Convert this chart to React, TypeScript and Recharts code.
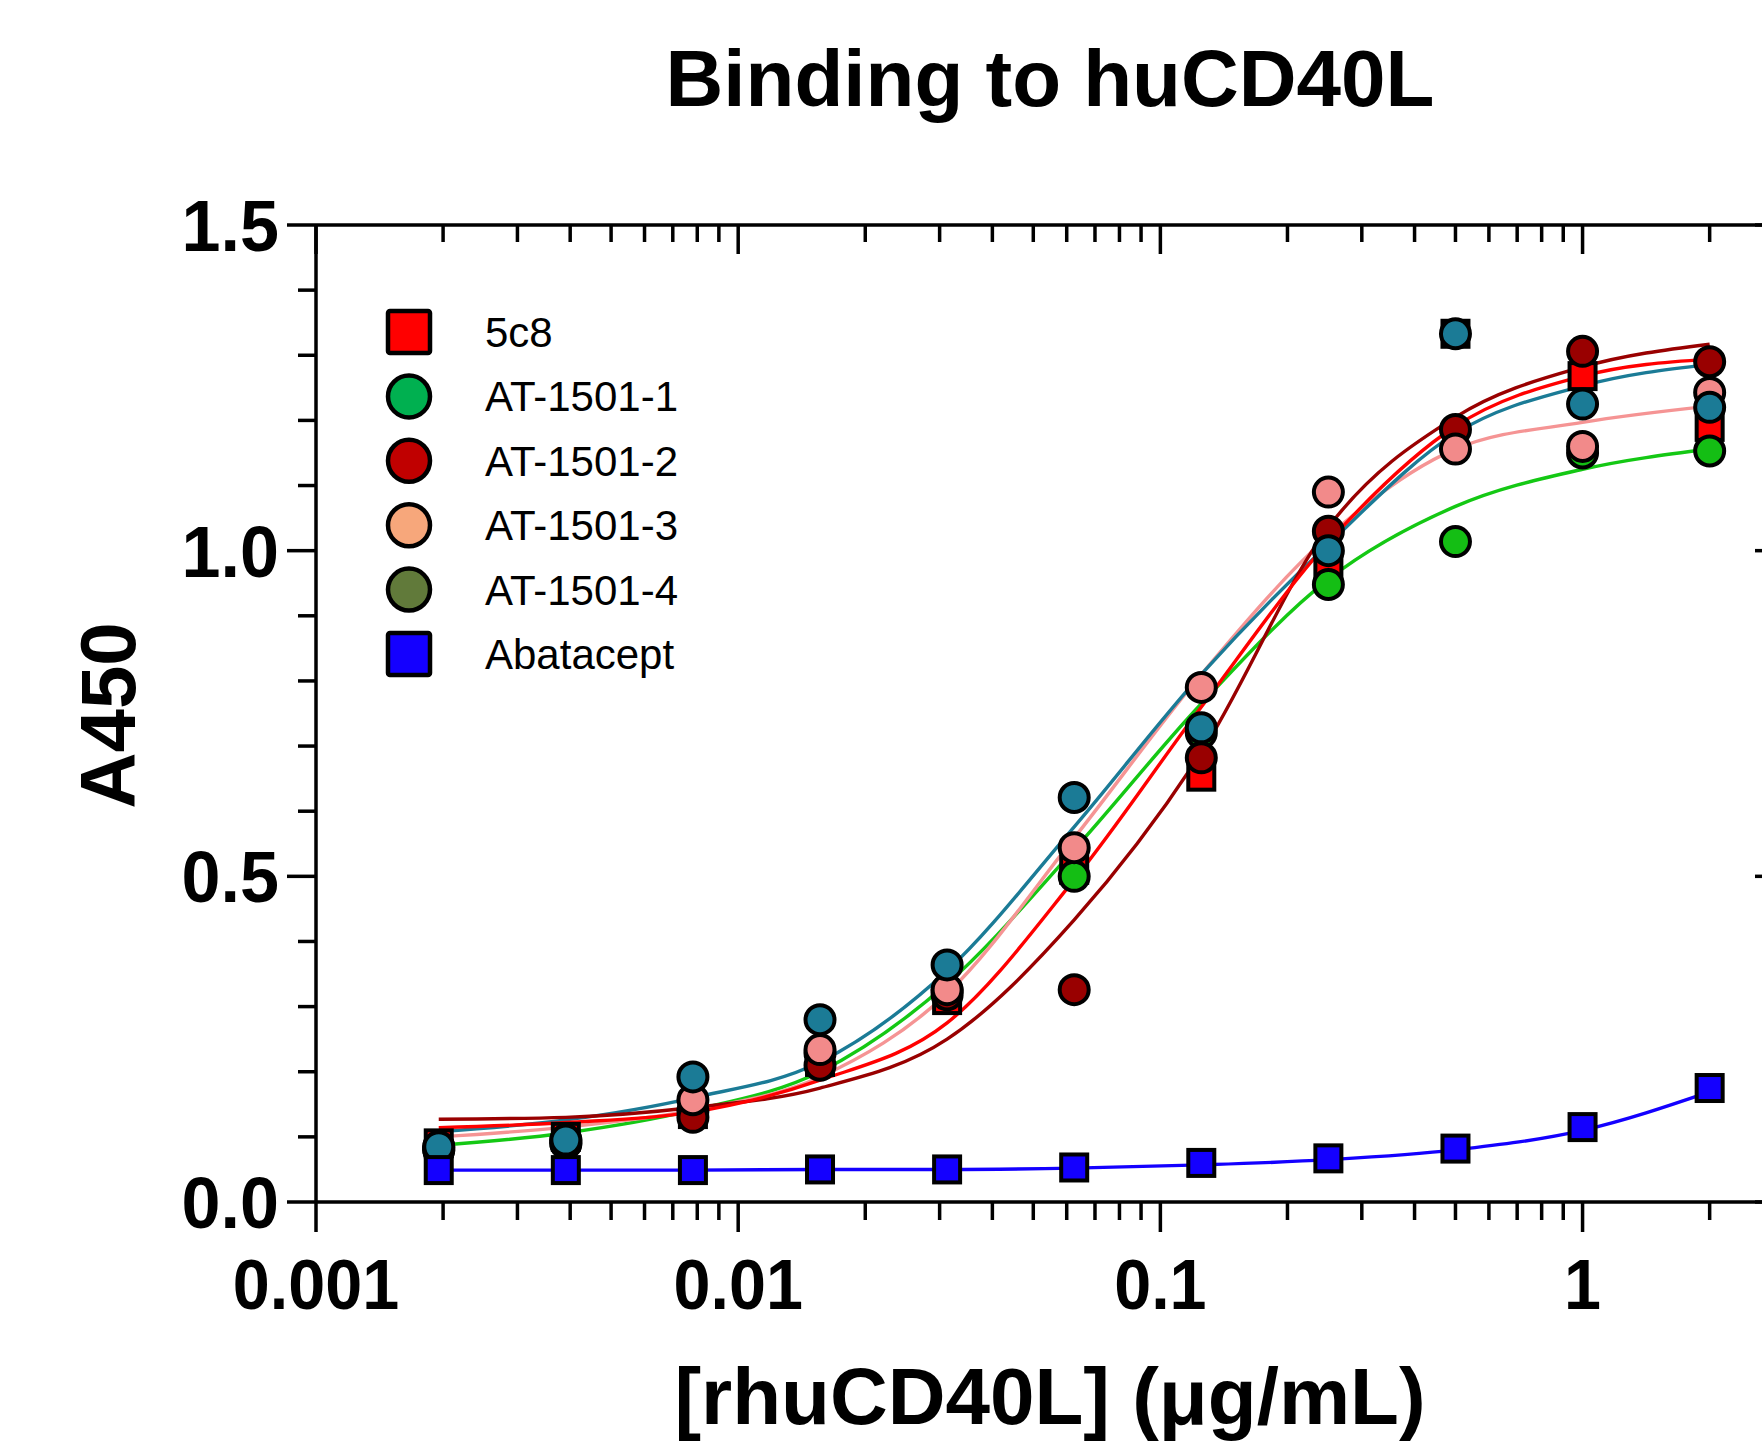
import React from 'react';
import { ComposedChart, Line, Scatter, XAxis, YAxis, Legend } from 'recharts';

// ---------- data ----------
const concentrations = [0.001953125, 0.00390625, 0.0078125, 0.015625, 0.03125, 0.0625, 0.125, 0.25, 0.5, 1, 2];

// measured points (A450)
const pts5c8 = [0.09, 0.1, 0.135, 0.215, 0.31, 0.51, 0.653, 0.975, 1.333, 1.268, 1.19];
const ptsAT1 = [0.08, 0.095, 0.14, 0.228, 0.325, 0.5, 0.72, 0.948, 1.014, 1.15, 1.153];
const ptsAT2 = [0.085, 0.09, 0.13, 0.21, 0.318, 0.326, 0.682, 1.03, 1.186, 1.306, 1.29];
const ptsAT3 = [0.08, 0.09, 0.157, 0.234, 0.326, 0.544, 0.79, 1.09, 1.156, 1.16, 1.243];
const ptsAT4 = [0.085, 0.095, 0.192, 0.28, 0.364, 0.621, 0.728, 1.0, 1.333, 1.225, 1.22];
const ptsAba = [0.049, 0.049, 0.049, 0.05, 0.05, 0.053, 0.06, 0.067, 0.082, 0.115, 0.175];

// fitted curves
const fit5c8 = [0.114, 0.122, 0.138, 0.187, 0.275, 0.495, 0.76, 1.013, 1.191, 1.268, 1.294];
const fitAT1 = [0.087, 0.106, 0.141, 0.2, 0.335, 0.541, 0.765, 0.956, 1.068, 1.125, 1.156];
const fitAT2 = [0.127, 0.13, 0.145, 0.175, 0.25, 0.433, 0.69, 1.036, 1.205, 1.282, 1.317];
const fitAT3 = [0.1, 0.115, 0.141, 0.192, 0.32, 0.559, 0.81, 1.022, 1.156, 1.197, 1.222];
const fitAT4 = [0.108, 0.126, 0.16, 0.215, 0.355, 0.576, 0.81, 1.01, 1.18, 1.253, 1.286];
const fitAba = [0.049, 0.049, 0.049, 0.05, 0.05, 0.052, 0.057, 0.065, 0.08, 0.11, 0.169];

const legendNames = ['5c8', 'AT-1501-1', 'AT-1501-2', 'AT-1501-3', 'AT-1501-4', 'Abatacept'];
const legendShapes = ['square', 'circle', 'circle', 'circle', 'circle', 'square'];

const xMajorTicks = [0.001, 0.01, 0.1, 1];
const xTickLabels = ['0.001', '0.01', '0.1', '1'];
const xMinorTicks = [
  0.002, 0.003, 0.004, 0.005, 0.006, 0.007, 0.008, 0.009,
  0.02, 0.03, 0.04, 0.05, 0.06, 0.07, 0.08, 0.09,
  0.2, 0.3, 0.4, 0.5, 0.6, 0.7, 0.8, 0.9,
  2, 3,
];
const yMajorTicks = [0, 0.5, 1, 1.5];
const yTickLabels = ['0.0', '0.5', '1.0', '1.5'];
const yMinorTicks = [0.1, 0.2, 0.3, 0.4, 0.6, 0.7, 0.8, 0.9, 1.1, 1.2, 1.3, 1.4];

const titleText = 'Binding to huCD40L';
const xTitle = '[rhuCD40L] (\u03bcg/mL)';
const yTitle = 'A450';

// ---------- styles ----------
const legendColors = ['#FF0000', '#00B050', '#C00000', '#F7A77B', '#617A3A', '#1400FF'];
const pointColors = ['#FF0000', '#14BE14', '#990000', '#F28A8A', '#1B7B96', '#1400FF'];
const lineColors = ['#FF0000', '#14C814', '#990000', '#F59494', '#1B7B96', '#1400FF'];
const FONT = '"Liberation Sans", Arial, Helvetica, sans-serif';

const makePoints = (vals: number[]) => concentrations.map((x, i) => ({ x, y: vals[i] }));
const fitRows = concentrations.map((x, i) => ({
  x,
  f5c8: fit5c8[i],
  fAT1: fitAT1[i],
  fAT2: fitAT2[i],
  fAT3: fitAT3[i],
  fAT4: fitAT4[i],
  fAba: fitAba[i],
}));

const xAllTicks = [...xMajorTicks, ...xMinorTicks].sort((a, b) => a - b);
const yAllTicks = [...yMajorTicks, ...yMinorTicks].sort((a, b) => a - b);

const AX = 3.5;
const LW = 3.4;

const BottomTick = (props: any) => {
  const { x, y, payload } = props;
  const idx = xMajorTicks.indexOf(payload.value);
  const major = idx >= 0;
  return (
    <g>
      <line x1={x} x2={x} y1={y} y2={y + (major ? 30 : 18)} stroke="#000" strokeWidth={AX} />
      {major && (
        <text
          transform={`translate(${x},${y + 107}) scale(0.95,1)`}
          textAnchor="middle"
          fontSize={70}
          fontWeight="bold"
          fontFamily={FONT}
          fill="#000"
        >
          {xTickLabels[idx]}
        </text>
      )}
    </g>
  );
};

const TopTick = (props: any) => {
  const { x, y, payload } = props;
  const major = xMajorTicks.indexOf(payload.value) >= 0;
  return <line x1={x} x2={x} y1={y} y2={y + (major ? 29 : 17)} stroke="#000" strokeWidth={AX} />;
};

const LeftTick = (props: any) => {
  const { x, y, payload } = props;
  const idx = yMajorTicks.indexOf(payload.value);
  const major = idx >= 0;
  return (
    <g>
      <line x1={x} x2={x - (major ? 29 : 18)} y1={y} y2={y} stroke="#000" strokeWidth={AX} />
      {major && (
        <text
          transform={`translate(${x - 37},${y + 26}) scale(0.96,1)`}
          textAnchor="end"
          fontSize={73}
          fontWeight="bold"
          fontFamily={FONT}
          fill="#000"
        >
          {yTickLabels[idx]}
        </text>
      )}
    </g>
  );
};

const RightTick = (props: any) => {
  const { x, y, payload } = props;
  const major = yMajorTicks.indexOf(payload.value) >= 0;
  return <line x1={x} x2={x - (major ? 29 : 17)} y1={y} y2={y} stroke="#000" strokeWidth={AX} />;
};

const renderXTitle = (props: any) => {
  const vb = props.viewBox || {};
  return (
    <text
      x={vb.x + vb.width / 2}
      y={vb.y + 222}
      textAnchor="middle"
      fontSize={80}
      fontWeight="bold"
      fontFamily={FONT}
      fill="#000"
    >
      {xTitle}
    </text>
  );
};

const renderYTitle = (props: any) => {
  const vb = props.viewBox || {};
  return (
    <text
      transform={`translate(135,${vb.y + vb.height / 2 + 2}) rotate(-90)`}
      textAnchor="middle"
      fontSize={78}
      fontWeight="bold"
      fontFamily={FONT}
      fill="#000"
    >
      {yTitle}
    </text>
  );
};

const makeSquare = (fill: string) => (p: any) => (
  <rect x={p.cx - 13} y={p.cy - 13} width={26} height={26} fill={fill} stroke="#000" strokeWidth={4} />
);
const makeCircle = (fill: string) => (p: any) => (
  <circle cx={p.cx} cy={p.cy} r={14.5} fill={fill} stroke="#000" strokeWidth={4} />
);

const renderLegend = () => (
  <svg width={340} height={420}>
    {legendNames.map((name, i) => {
      const cy = 30 + i * 64.4;
      return (
        <g key={name}>
          {legendShapes[i] === 'square' ? (
            <rect x={9} y={cy - 21} width={42} height={42} rx={2} fill={legendColors[i]} stroke="#000" strokeWidth={4.5} />
          ) : (
            <circle cx={30} cy={cy} r={21} fill={legendColors[i]} stroke="#000" strokeWidth={4.5} />
          )}
          <text x={106} y={cy + 15} fontSize={42} fontFamily={FONT} fill="#000">
            {name}
          </text>
        </g>
      );
    })}
  </svg>
);

export default function App() {
  return (
    <div style={{ position: 'absolute', left: 0, top: 0, width: 1762, height: 1444, overflow: 'hidden', background: '#fff' }}>
      <div
        style={{
          position: 'absolute',
          left: 550,
          top: 39,
          width: 1000,
          textAlign: 'center',
          fontFamily: FONT,
          fontWeight: 'bold',
          fontSize: 80,
          lineHeight: '80px',
          color: '#000',
          whiteSpace: 'nowrap',
          zIndex: 2,
        }}
      >
        {titleText}
      </div>
      <ComposedChart
        width={1900}
        height={1444}
        data={fitRows}
        margin={{ top: 224, right: 100, bottom: 0, left: 0 }}
      >
        <XAxis
          dataKey="x"
          type="number"
          scale="log"
          domain={[0.001, 3]}
          allowDataOverflow
          ticks={xAllTicks}
          interval={0}
          tickSize={0}
          tickMargin={0}
          tick={<BottomTick />}
          tickLine={false}
          axisLine={{ stroke: '#000', strokeWidth: AX }}
          height={242}
          label={renderXTitle}
        />
        <XAxis
          xAxisId="top"
          orientation="top"
          dataKey="x"
          type="number"
          scale="log"
          domain={[0.001, 3]}
          allowDataOverflow
          ticks={xAllTicks}
          interval={0}
          tickSize={0}
          tickMargin={0}
          tick={<TopTick />}
          tickLine={false}
          axisLine={{ stroke: '#000', strokeWidth: AX }}
          height={1}
        />
        <YAxis
          type="number"
          domain={[0, 1.5]}
          allowDataOverflow
          ticks={yAllTicks}
          interval={0}
          tickSize={0}
          tickMargin={0}
          tick={<LeftTick />}
          tickLine={false}
          axisLine={{ stroke: '#000', strokeWidth: AX }}
          width={316}
          label={renderYTitle}
        />
        <YAxis
          yAxisId="right"
          orientation="right"
          type="number"
          domain={[0, 1.5]}
          allowDataOverflow
          ticks={yAllTicks}
          interval={0}
          tickSize={0}
          tickMargin={0}
          tick={<RightTick />}
          tickLine={false}
          axisLine={{ stroke: '#000', strokeWidth: AX }}
          width={16}
        />
        <Legend
          layout="vertical"
          align="center"
          verticalAlign="middle"
          content={renderLegend}
          wrapperStyle={{ left: 379, top: 302, width: 340, height: 420 }}
        />

        <Scatter name="5c8" data={makePoints(pts5c8)} dataKey="y" shape={makeSquare(pointColors[0])} isAnimationActive={false} legendType="none" />
        <Scatter name="AT-1501-1" data={makePoints(ptsAT1)} dataKey="y" shape={makeCircle(pointColors[1])} isAnimationActive={false} legendType="none" />
        <Scatter name="AT-1501-2" data={makePoints(ptsAT2)} dataKey="y" shape={makeCircle(pointColors[2])} isAnimationActive={false} legendType="none" />
        <Scatter name="AT-1501-3" data={makePoints(ptsAT3)} dataKey="y" shape={makeCircle(pointColors[3])} isAnimationActive={false} legendType="none" />
        <Scatter name="AT-1501-4" data={makePoints(ptsAT4)} dataKey="y" shape={makeCircle(pointColors[4])} isAnimationActive={false} legendType="none" />
        <Scatter name="Abatacept" data={makePoints(ptsAba)} dataKey="y" shape={makeSquare(pointColors[5])} isAnimationActive={false} legendType="none" />

        <Line dataKey="fAT1" type="monotone" stroke={lineColors[1]} strokeWidth={LW} dot={false} activeDot={false} isAnimationActive={false} legendType="none" />
        <Line dataKey="fAT3" type="monotone" stroke={lineColors[3]} strokeWidth={LW} dot={false} activeDot={false} isAnimationActive={false} legendType="none" />
        <Line dataKey="fAT4" type="monotone" stroke={lineColors[4]} strokeWidth={LW} dot={false} activeDot={false} isAnimationActive={false} legendType="none" />
        <Line dataKey="fAT2" type="monotone" stroke={lineColors[2]} strokeWidth={LW} dot={false} activeDot={false} isAnimationActive={false} legendType="none" />
        <Line dataKey="f5c8" type="monotone" stroke={lineColors[0]} strokeWidth={LW} dot={false} activeDot={false} isAnimationActive={false} legendType="none" />
        <Line dataKey="fAba" type="monotone" stroke={lineColors[5]} strokeWidth={LW} dot={false} activeDot={false} isAnimationActive={false} legendType="none" />
      </ComposedChart>
    </div>
  );
}
